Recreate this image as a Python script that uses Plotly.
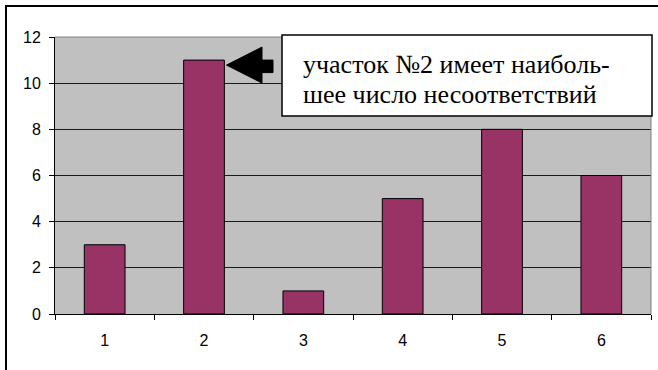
import plotly.graph_objects as go

sections = ["1", "2", "3", "4", "5", "6"]
counts = [3, 11, 1, 5, 8, 6]
y_ticks = [0, 2, 4, 6, 8, 10, 12]
note_lines = ["участок №2 имеет наиболь-", "шее число несоответствий"]

W, H = 658, 370
L, R, T, B = 55, 7, 37, 56
pw, ph = W - L - R, H - T - B

def px_x(p):
    return (p - L) / pw

def px_y(p):
    return (H - B - p) / ph

fig = go.Figure()
fig.add_trace(go.Bar(
    x=sections, y=counts,
    marker=dict(color="#993366", line=dict(color="black", width=1)),
    hoverinfo="skip",
))

fig.update_layout(
    width=W, height=H,
    margin=dict(l=L, r=R, t=T, b=B, autoexpand=False),
    paper_bgcolor="white",
    plot_bgcolor="#C0C0C0",
    bargap=0.59,
    showlegend=False,
    font=dict(family="Liberation Sans", size=16, color="black"),
    xaxis=dict(
        type="category",
        tickson="boundaries",
        ticks="outside", ticklen=5, tickcolor="black", tickwidth=1,
        showline=True, linecolor="black", linewidth=1,
        showgrid=False, zeroline=False,
        ticklabelstandoff=12,
        tickfont=dict(size=16),
    ),
    yaxis=dict(
        range=[0, 12], tickvals=y_ticks,
        ticks="outside", ticklen=5, tickcolor="black", tickwidth=1,
        showline=True, linecolor="black", linewidth=1,
        showgrid=True, gridcolor="#1a1a1a", gridwidth=1,
        zeroline=False,
        ticklabelstandoff=5,
        tickfont=dict(size=16),
    ),
)

# gray top/right plot-area border
fig.add_shape(type="line", xref="paper", yref="paper", x0=0, x1=1, y0=1, y1=1,
              line=dict(color="#808080", width=1), layer="above")
fig.add_shape(type="line", xref="paper", yref="paper", x0=1, x1=1, y0=0, y1=1,
              line=dict(color="#808080", width=1), layer="above")

# outer chart frame
fig.add_shape(type="rect", xref="paper", yref="paper",
              x0=px_x(6), x1=px_x(W + 10), y0=px_y(H + 10), y1=px_y(6),
              line=dict(color="black", width=2), fillcolor="rgba(0,0,0,0)", layer="above")

# callout box
fig.add_shape(type="rect", xref="paper", yref="paper",
              x0=px_x(282), x1=px_x(652), y0=px_y(116), y1=px_y(35),
              line=dict(color="black", width=1.5), fillcolor="white", layer="above")
for line_text, yc in zip(note_lines, [64, 94]):
    fig.add_annotation(xref="paper", yref="paper", x=px_x(301), y=px_y(yc),
                       xanchor="left", yanchor="middle", align="left",
                       text=line_text, showarrow=False,
                       font=dict(family="Times New Roman, Liberation Serif, serif",
                                 size=26, color="black"))

# block arrow pointing at the tallest bar
top_idx = counts.index(max(counts))
fig.add_shape(type="path", xref="x", yref="y",
              xsizemode="pixel", ysizemode="pixel",
              xanchor=top_idx, yanchor=counts[top_idx],
              path="M 22.5,-5 L 58,13 L 58,0 L 69,0 L 69,-12.5 L 58,-12.5 L 58,-23 Z",
              fillcolor="black", line=dict(color="black", width=1), layer="above")

fig.write_html("out.html", config={"displayModeBar": False},
               post_script="document.body.style.margin='0px';document.body.style.overflow='hidden';")
